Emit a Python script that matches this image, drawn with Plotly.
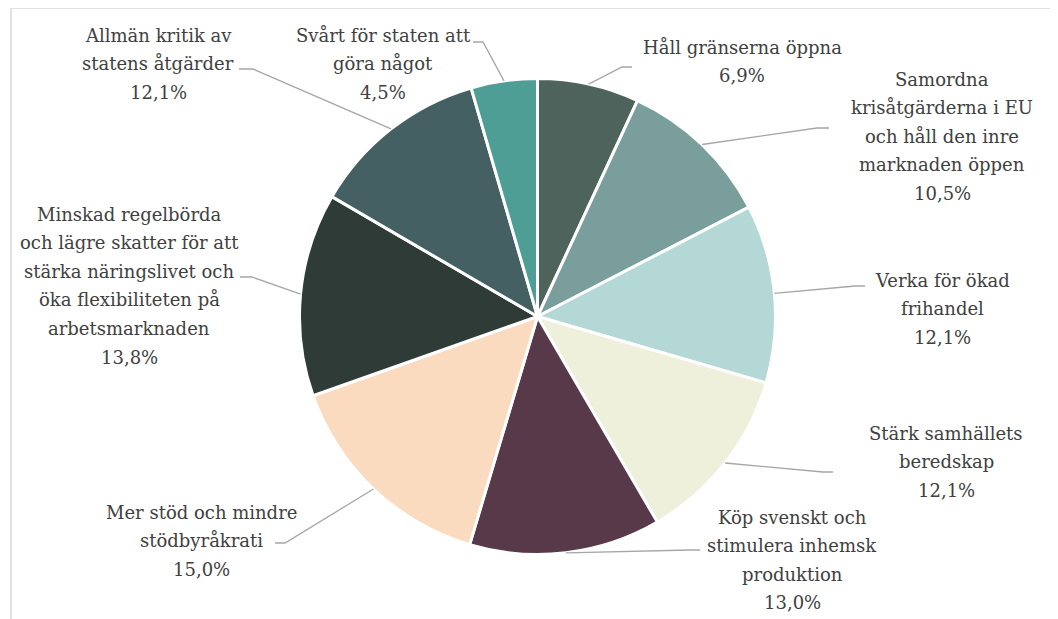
import math
import plotly.graph_objects as go

# ---- data ----
categories = [
    "Håll gränserna öppna",
    "Samordna krisåtgärderna i EU och håll den inre marknaden öppen",
    "Verka för ökad frihandel",
    "Stärk samhällets beredskap",
    "Köp svenskt och stimulera inhemsk produktion",
    "Mer stöd och mindre stödbyråkrati",
    "Minskad regelbörda och lägre skatter för att stärka näringslivet och öka flexibiliteten på arbetsmarknaden",
    "Allmän kritik av statens åtgärder",
    "Svårt för staten att göra något",
]
label_lines = [
    ["Håll gränserna öppna"],
    ["Samordna", "krisåtgärderna i EU", "och håll den inre", "marknaden öppen"],
    ["Verka för ökad", "frihandel"],
    ["Stärk samhällets", "beredskap"],
    ["Köp svenskt och", "stimulera inhemsk", "produktion"],
    ["Mer stöd och mindre", "stödbyråkrati"],
    ["Minskad regelbörda", "och lägre skatter för att", "stärka näringslivet och",
     "öka flexibiliteten på", "arbetsmarknaden"],
    ["Allmän kritik av", "statens åtgärder"],
    ["Svårt för staten att", "göra något"],
]
values = [6.9, 10.5, 12.1, 12.1, 13.0, 15.0, 13.8, 12.1, 4.5]

# ---- styles / layout (window pixel coordinates) ----
colors = ["#4E635C", "#7A9E9C", "#B4D8D6", "#EEF0DB", "#573949",
          "#FBDBC0", "#2F3B37", "#456063", "#4E9E96"]
WIN_W, WIN_H = 1058, 619
OFF = 8                      # default page margin around the plot div
W, H = WIN_W - OFF, WIN_H - OFF
cx, cy, R = 537.5, 316.5, 238.0
# label block: centre x and first-line centre y (window pixels)
label_pos = [(742, 47), (942, 79), (942, 280), (946, 433), (792, 517),
             (201, 512), (129, 214), (158, 35), (383, 35)]
LINE_GAP = 28.6
# leader-line elbow and end points (window pixels)
leader_pts = [((622, 67), (632, 67)), ((817, 128), (829, 128)), ((855, 286), (865, 286)),
              ((823, 472), (833, 472)), ((690, 550), (700, 550)), ((285, 543), (275, 543)),
              ((252, 277), (240, 277)), ((253, 69), (239, 69)), ((483, 42), (473, 42))]
FONT = "DejaVu Serif, Liberation Serif, serif"
FS = 18

fig = go.Figure()
fig.add_trace(go.Pie(
    labels=categories, values=values, sort=False, direction="clockwise", rotation=0,
    textinfo="none", hoverinfo="label+percent",
    marker=dict(colors=colors, line=dict(color="white", width=3)),
    domain=dict(x=[(cx - R - OFF) / W, (cx + R - OFF) / W],
                y=[(WIN_H - cy - R) / H, (WIN_H - cy + R) / H]),
    showlegend=False,
))

total = sum(values)
cum = 0.0
shapes = []
annotations = []
for i, v in enumerate(values):
    mid = (cum + v / 2) / total * 2 * math.pi
    cum += v
    sx = cx + R * math.sin(mid)
    sy = cy - R * math.cos(mid)
    (ex, ey), (fx, fy) = leader_pts[i]
    shapes.append(dict(type="path", xref="x", yref="y",
                       path=f"M {sx:.1f} {sy:.1f} L {ex} {ey} L {fx} {fy}",
                       line=dict(color="#A6A6A6", width=1.3)))
    pct = f"{v:.1f}".replace(".", ",") + "%"
    lines = label_lines[i] + [pct]
    lx, ly = label_pos[i]
    for k, line in enumerate(lines):
        annotations.append(dict(x=lx, y=ly + k * LINE_GAP, xref="x", yref="y", text=line,
                                showarrow=False, xanchor="center", yanchor="middle",
                                font=dict(family=FONT, size=FS, color="#404040")))

# outer frame
shapes.append(dict(type="rect", xref="x", yref="y", x0=11, y0=8, x1=WIN_W + 20, y1=WIN_H + 20,
                   line=dict(color="#D9D9D9", width=1.5), layer="below"))

fig.update_layout(
    width=W, height=H, margin=dict(l=0, r=0, t=0, b=0),
    paper_bgcolor="white", plot_bgcolor="rgba(0,0,0,0)",
    xaxis=dict(range=[OFF, WIN_W], visible=False, fixedrange=True),
    yaxis=dict(range=[WIN_H, OFF], visible=False, fixedrange=True),
    shapes=shapes, annotations=annotations,
)
fig.write_html("out.html")
